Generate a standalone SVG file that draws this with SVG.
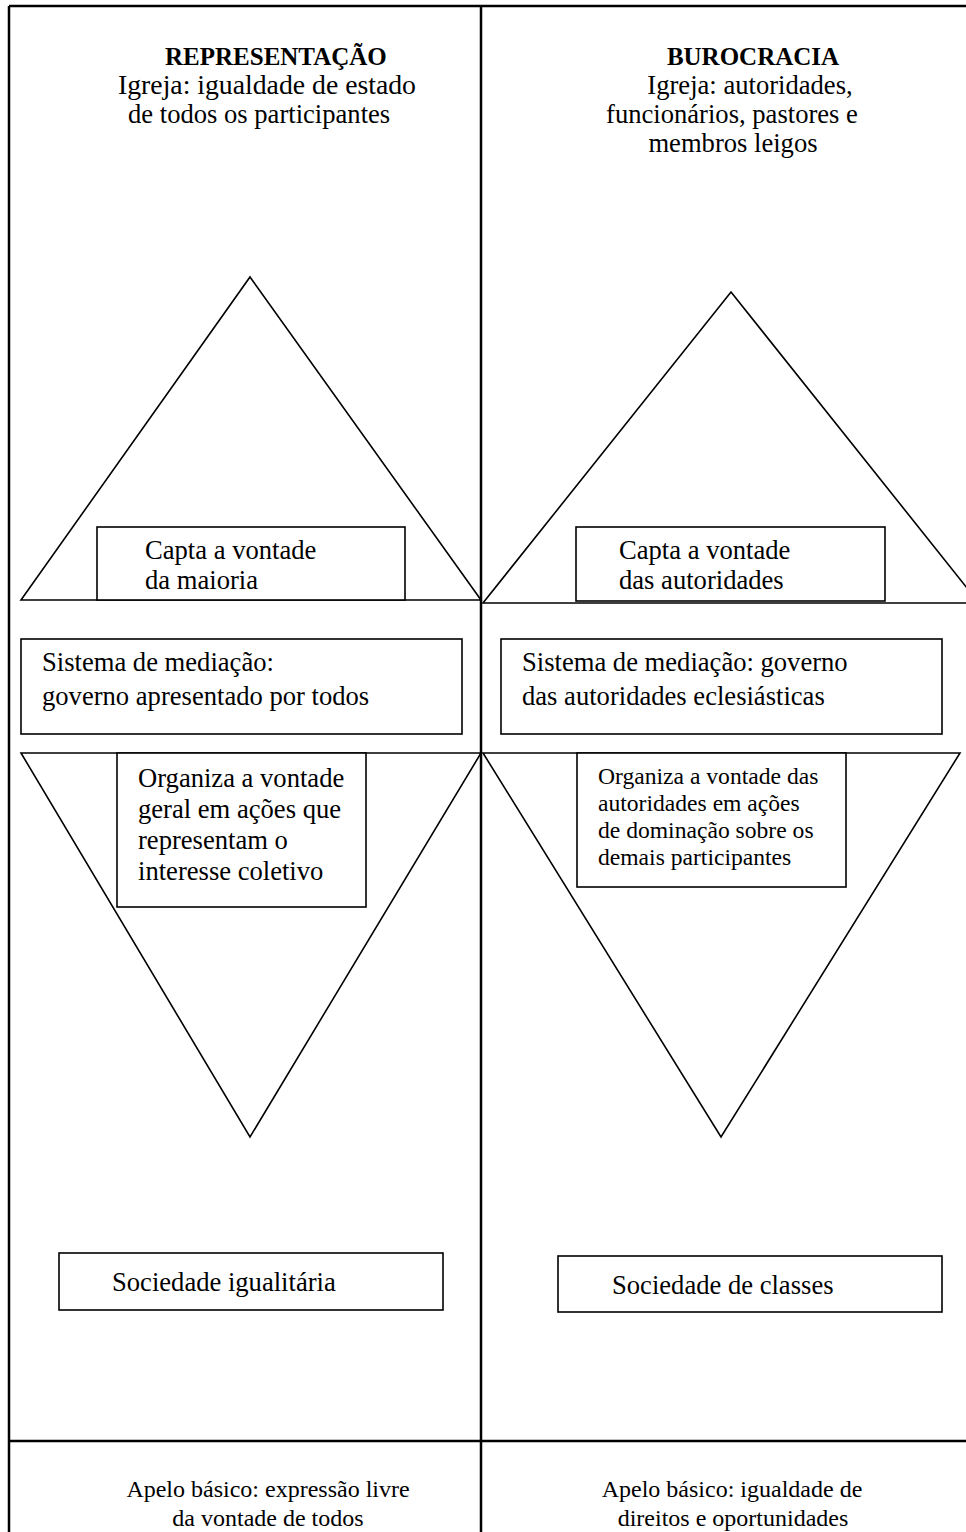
<svg xmlns="http://www.w3.org/2000/svg" width="966" height="1532" viewBox="0 0 966 1532">
<style>
.frame{stroke:#000;stroke-width:2.5;fill:none}
.shape{stroke:#000;stroke-width:1.6;fill:none}
.box{stroke:#000;stroke-width:1.6;fill:#fff}
text{font-family:"Liberation Serif","Times New Roman",serif;font-size:26.6px;fill:#000}
.b{font-weight:bold;font-size:25px}
.s{font-size:23.6px}
.a{font-size:24px}
.m{text-anchor:middle}
</style>
<rect width="966" height="1532" fill="#fff"/>
<g id="frame">
<line class="frame" x1="9" y1="6" x2="966" y2="6"/>
<line class="frame" x1="9" y1="6" x2="9" y2="1532"/>
<line class="frame" x1="481" y1="6" x2="481" y2="1532"/>
<line class="frame" x1="9" y1="1441" x2="966" y2="1441"/>
</g>
<g id="header-left">
<text class="b" x="165" y="65">REPRESENTAÇÃO</text>
<text x="118" y="94" textLength="298" lengthAdjust="spacingAndGlyphs">Igreja: igualdade de estado</text>
<text x="128" y="123">de todos os participantes</text>
</g>
<g id="header-right">
<text class="b m" x="753" y="65">BUROCRACIA</text>
<text class="m" x="750" y="94">Igreja: autoridades,</text>
<text class="m" x="732" y="123">funcionários, pastores e</text>
<text class="m" x="733" y="152">membros leigos</text>
</g>
<g id="triangle-up-left"><polygon class="shape" points="250,277 481,600 21,600"/></g>
<g id="triangle-up-right"><polygon class="shape" points="731,292 979,603 483,603"/></g>
<g id="triangle-down-left"><polygon class="shape" points="21,753 481,753 250,1137"/></g>
<g id="triangle-down-right"><polygon class="shape" points="483,753 960,753 721,1137"/></g>
<g id="capta-left">
<rect class="box" x="97" y="527" width="308" height="73"/>
<text x="145" y="559">Capta a vontade</text>
<text x="145" y="589">da maioria</text>
</g>
<g id="capta-right">
<rect class="box" x="576" y="527" width="309" height="74"/>
<text x="619" y="559">Capta a vontade</text>
<text x="619" y="589">das autoridades</text>
</g>
<g id="mediacao-left">
<rect class="box" x="21" y="639" width="441" height="95"/>
<text x="42" y="671">Sistema de mediação:</text>
<text x="42" y="705">governo apresentado por todos</text>
</g>
<g id="mediacao-right">
<rect class="box" x="501" y="639" width="441" height="95"/>
<text x="522" y="671">Sistema de mediação: governo</text>
<text x="522" y="705">das autoridades eclesiásticas</text>
</g>
<g id="organiza-left">
<rect class="box" x="117" y="753" width="249" height="154"/>
<text x="138" y="787">Organiza a vontade</text>
<text x="138" y="818">geral em ações que</text>
<text x="138" y="849">representam o</text>
<text x="138" y="880">interesse coletivo</text>
</g>
<g id="organiza-right">
<rect class="box" x="577" y="753" width="269" height="134"/>
<text class="s" x="598" y="784">Organiza a vontade das</text>
<text class="s" x="598" y="811">autoridades em ações</text>
<text class="s" x="598" y="838">de dominação sobre os</text>
<text class="s" x="598" y="865">demais participantes</text>
</g>
<g id="sociedade-left">
<rect class="box" x="59" y="1253" width="384" height="57"/>
<text x="112" y="1291">Sociedade igualitária</text>
</g>
<g id="sociedade-right">
<rect class="box" x="558" y="1256" width="384" height="56"/>
<text x="612" y="1294">Sociedade de classes</text>
</g>
<g id="apelo-left">
<text class="m a" x="268" y="1497">Apelo básico: expressão livre</text>
<text class="m a" x="268" y="1526">da vontade de todos</text>
</g>
<g id="apelo-right">
<text class="m a" x="732" y="1497">Apelo básico: igualdade de</text>
<text class="m a" x="733" y="1526">direitos e oportunidades</text>
</g>
<g id="connectors"></g>
</svg>
